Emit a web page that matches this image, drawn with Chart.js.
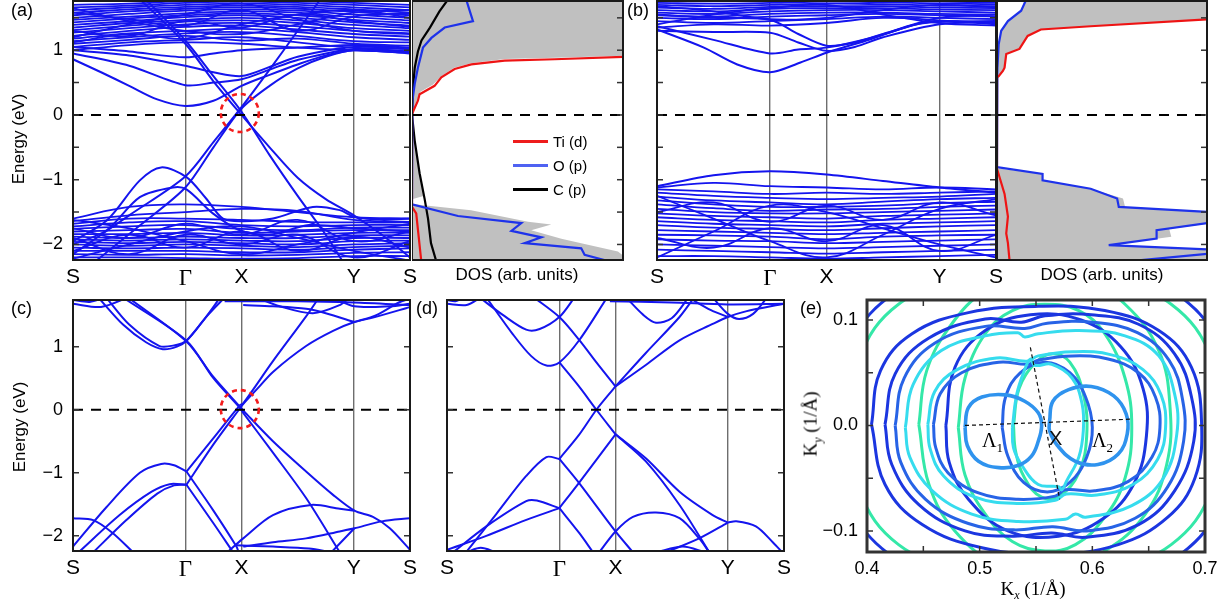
<!DOCTYPE html>
<html>
<head>
<meta charset="utf-8">
<script src="https://cdn.jsdelivr.net/npm/chart.js@4.4.1/dist/chart.umd.min.js"></script>
<style>
  body { margin: 0; background: #fff; width: 1226px; height: 609px; position: relative; overflow: hidden;
         font-family: "Liberation Sans", Arial, sans-serif; }
  canvas { position: absolute; }
  .lbl { position: absolute; white-space: nowrap; color: #000; line-height: 1; }
  .rot { transform: translate(-50%, -50%) rotate(-90deg); }
  .ctr { transform: translate(-50%, -50%); }
  .serif { font-family: "Liberation Serif", "DejaVu Serif", serif; }
  .key { position: absolute; height: 3px; width: 35px; }
</style>
</head>
<body>
<canvas id="bandA"></canvas>
<canvas id="dosA"></canvas>
<canvas id="bandB"></canvas>
<canvas id="dosB"></canvas>
<canvas id="bandC"></canvas>
<canvas id="bandD"></canvas>
<canvas id="fermiE"></canvas>

<div class="lbl" style="left:11px;top:1px;font-size:18px">(a)</div>
<div class="lbl" style="left:627px;top:1px;font-size:18px">(b)</div>
<div class="lbl" style="left:11px;top:299px;font-size:18px">(c)</div>
<div class="lbl" style="left:416px;top:299px;font-size:18px">(d)</div>
<div class="lbl" style="left:800px;top:299px;font-size:18px">(e)</div>
<div class="lbl rot" style="left:18px;top:139px;font-size:17px">Energy (eV)</div>
<div class="lbl rot" style="left:19px;top:427px;font-size:17px">Energy (eV)</div>
<div class="lbl ctr" style="left:517px;top:274px;font-size:17px">DOS (arb. units)</div>
<div class="lbl ctr" style="left:1102px;top:274px;font-size:17px">DOS (arb. units)</div>

<div class="key" style="left:513px;top:140px;background:#ee1c1c"></div>
<div class="lbl" style="left:553px;top:134px;font-size:15px">Ti (d)</div>
<div class="key" style="left:513px;top:164px;background:#4f62f2"></div>
<div class="lbl" style="left:553px;top:158px;font-size:15px">O (p)</div>
<div class="key" style="left:513px;top:188px;background:#000"></div>
<div class="lbl" style="left:553px;top:182px;font-size:15px">C (p)</div>

<div class="lbl rot serif" style="left:812px;top:424px;font-size:19px">K<sub style="font-size:12px;font-style:italic">y</sub> (1/Å)</div>
<div class="lbl ctr serif" style="left:1033px;top:590px;font-size:19px">K<sub style="font-size:12px;font-style:italic">x</sub> (1/Å)</div>
<div class="lbl serif" style="left:982px;top:430px;font-size:20px">Λ<sub style="font-size:13px">1</sub></div>
<div class="lbl serif" style="left:1092px;top:430px;font-size:20px">Λ<sub style="font-size:13px">2</sub></div>
<div class="lbl" style="left:1049px;top:428px;font-size:20px;color:#111">X</div>

<script>
// ---------- k-path ----------
const kPath = [0, 1, 2, 3, 4, 5, 6];
const kTicks = [0, 2, 3, 5, 6];
const kLabels = ['S', 'Γ', 'X', 'Y', 'S'];
const energyTicks = [-2, -1, 0, 1];
const energyMarks = [-2, -1.5, -1, -0.5, 0, 0.5, 1, 1.5];

// ---------- panel (a): band energies (eV) ----------
// rows sampled at kPath
const bandsA_condGrid = [
  [1.00, 1.08, 1.12, 1.10, 1.04, 1.00, 0.97],
  [1.05, 1.12, 1.16, 1.20, 1.12, 1.04, 1.02],
  [1.10, 1.16, 1.22, 1.15, 1.18, 1.10, 1.07],
  [1.14, 1.20, 1.26, 1.28, 1.22, 1.14, 1.12],
  [1.18, 1.26, 1.30, 1.33, 1.28, 1.20, 1.16],
  [1.22, 1.30, 1.36, 1.38, 1.32, 1.25, 1.21],
  [1.27, 1.34, 1.40, 1.42, 1.37, 1.30, 1.26],
  [1.31, 1.38, 1.44, 1.46, 1.42, 1.34, 1.30],
  [1.35, 1.42, 1.47, 1.50, 1.46, 1.39, 1.34],
  [1.39, 1.45, 1.51, 1.54, 1.50, 1.43, 1.38],
  [1.43, 1.49, 1.54, 1.57, 1.54, 1.47, 1.42],
  [1.47, 1.52, 1.57, 1.60, 1.58, 1.51, 1.46],
  [1.50, 1.56, 1.61, 1.63, 1.61, 1.55, 1.50],
  [1.54, 1.60, 1.64, 1.66, 1.64, 1.59, 1.54],
  [1.58, 1.63, 1.67, 1.69, 1.67, 1.63, 1.58],
  [1.62, 1.66, 1.70, 1.72, 1.70, 1.66, 1.62],
  [1.66, 1.69, 1.73, 1.75, 1.73, 1.70, 1.66],
  [1.70, 1.72, 1.76, 1.78, 1.76, 1.73, 1.70],
  [1.20, 1.40, 1.55, 1.72, 1.48, 1.30, 1.25],
  [1.65, 1.45, 1.30, 1.25, 1.40, 1.58, 1.62],
  [1.30, 1.22, 1.45, 1.35, 1.55, 1.45, 1.36],
  [1.58, 1.48, 1.38, 1.62, 1.30, 1.52, 1.57],
  [1.12, 1.25, 1.18, 1.40, 1.55, 1.62, 1.50]
];
const bandsA_valGrid = [
  [-1.60, -1.42, -1.38, -1.42, -1.50, -1.58, -1.60],
  [-1.64, -1.55, -1.50, -1.45, -1.48, -1.62, -1.65],
  [-1.68, -1.60, -1.60, -1.62, -1.65, -1.66, -1.66],
  [-1.72, -1.66, -1.64, -1.70, -1.72, -1.70, -1.70],
  [-1.76, -1.72, -1.70, -1.76, -1.78, -1.74, -1.74],
  [-1.80, -1.78, -1.76, -1.82, -1.80, -1.78, -1.78],
  [-1.84, -1.84, -1.82, -1.86, -1.85, -1.82, -1.82],
  [-1.88, -1.90, -1.88, -1.90, -1.90, -1.86, -1.86],
  [-1.92, -1.94, -1.92, -1.94, -1.95, -1.90, -1.90],
  [-1.96, -1.98, -1.96, -1.98, -2.00, -1.95, -1.94],
  [-2.00, -2.02, -2.00, -2.02, -2.04, -2.00, -1.98],
  [-2.05, -2.06, -2.05, -2.06, -2.08, -2.04, -2.02],
  [-2.10, -2.10, -2.10, -2.12, -2.12, -2.08, -2.06],
  [-2.15, -2.16, -2.15, -2.17, -2.16, -2.13, -2.12],
  [-2.20, -2.20, -2.21, -2.22, -2.21, -2.18, -2.18],
  [-1.62, -1.75, -1.95, -2.15, -2.00, -1.82, -1.68],
  [-2.22, -2.00, -1.80, -1.72, -1.90, -2.10, -2.25],
  [-1.75, -1.90, -1.68, -1.85, -1.62, -1.95, -1.80],
  [-2.10, -1.85, -2.05, -1.80, -2.10, -1.88, -2.05],
  [-1.90, -2.15, -1.85, -2.00, -1.85, -2.20, -1.95]
];
// [k, E] traced bands
const bandsA_traced = [
  [[0, 0.86], [0.5, 0.66], [1, 0.45], [1.5, 0.24], [2, 0.14], [2.5, 0.22], [3, 0.45], [3.5, 0.62], [4, 0.78], [4.5, 0.92], [5, 1.0], [6, 0.96]],
  [[0, 0.95], [1, 0.76], [2, 0.46], [2.5, 0.5], [3, 0.55], [3.5, 0.7], [4, 0.85], [5, 1.02], [6, 0.98]],
  [[0, 1.0], [1, 0.92], [2, 0.76], [2.5, 0.66], [3, 0.6], [3.5, 0.74], [4, 0.9], [5, 1.05], [6, 1.02]],
  [[0, 1.05], [1, 0.98], [2, 0.89], [2.5, 0.95], [3, 1.0], [4, 1.04], [5, 1.08], [6, 1.04]],
  [[1.2, 1.78], [2, 1.1], [2.5, 0.52], [3, 0.0], [3.5, -0.5], [4, -0.97], [4.5, -1.3], [5, -1.55], [5.5, -1.85], [6, -2.2]],
  [[1.3, 1.78], [2, 1.15], [2.5, 0.6], [3, 0.05], [3.5, -0.62], [4, -1.25], [4.5, -1.85], [4.8, -2.26]],
  [[0, -2.15], [1, -1.55], [2, -0.95], [2.5, -0.42], [3, 0.12], [3.5, 0.7], [4, 1.3], [4.4, 1.78]],
  [[0.4, -2.26], [1.2, -1.7], [2, -1.12], [2.5, -0.5], [3, 0.1], [3.5, 0.45], [4, 0.72], [4.5, 0.9], [5, 1.0], [6, 0.95]],
  [[0, -1.95], [0.6, -1.63], [1.19, -1.01], [1.57, -0.81], [2.02, -0.96], [2.37, -1.29], [2.67, -1.6], [3.03, -1.64], [3.56, -1.6], [4.27, -1.42], [4.75, -1.47], [5, -1.57], [5.5, -1.62], [6, -1.6]],
  [[0, -2.0], [0.6, -1.78], [1.19, -1.27], [1.78, -1.12], [2.02, -1.15], [2.49, -1.52], [2.97, -1.78], [3.5, -1.85], [4.2, -1.7], [5, -1.75], [6, -1.8]]
];

// ---------- panel (a): DOS, [DOS, E] ----------
const dosA_Ti = [[1.02, 0.9], [0.676, 0.86], [0.439, 0.84], [0.281, 0.78], [0.202, 0.71], [0.139, 0.58], [0.107, 0.45], [0.036, 0.32], [0.028, 0.22], [0, 0.015], [0, -1.42], [0.02, -1.52], [0.03, -1.83], [0.044, -2.26]];
const dosA_O = [[0.257, 1.78], [0.289, 1.45], [0.155, 1.35], [0.092, 1.19], [0.052, 1.04], [0.028, 0.73], [0.013, 0.48], [0.002, 0.22], [0, 0], [0, -1.38], [0.218, -1.56], [0.518, -1.67], [0.471, -1.79], [0.613, -1.89], [0.534, -1.98], [0.802, -2.06], [0.818, -2.16], [0.945, -2.27]];
const dosA_C = [[0.17, 1.78], [0.13, 1.6], [0.085, 1.35], [0.045, 1.15], [0.028, 0.98], [0.013, 0.73], [0.005, 0.43], [0, 0], [0.013, -0.4], [0.036, -0.9], [0.06, -1.3], [0.076, -1.6], [0.09, -1.98], [0.115, -2.26]];
const dosA_totalUp = [[-0.05, 1.85], [1.05, 1.85], [1.05, 0.92], [0.68, 0.885], [0.44, 0.865], [0.28, 0.8], [0.2, 0.73], [0.14, 0.6], [0.1, 0.47], [0.04, 0.36], [0.02, 0.2], [0, 0.02], [-0.05, 0.02]];
const dosA_totalMid = [[-0.05, 0], [0, 0], [0.013, -0.4], [0.036, -0.9], [0.055, -1.25], [0, -1.3], [-0.05, -1.3]];
const dosA_totalLow = [[-0.05, -1.36], [0.28, -1.47], [0.55, -1.65], [0.66, -1.69], [0.565, -1.78], [0.708, -1.91], [0.802, -1.98], [0.976, -2.11], [1.05, -2.3], [-0.05, -2.3]];

// ---------- panel (b) ----------
const bandsB_condGrid = [
  [1.45, 1.42, 1.45, 1.48, 1.52, 1.50, 1.48],
  [1.50, 1.48, 1.52, 1.54, 1.56, 1.54, 1.52],
  [1.54, 1.52, 1.56, 1.58, 1.58, 1.56, 1.55],
  [1.58, 1.56, 1.60, 1.62, 1.62, 1.60, 1.58],
  [1.62, 1.60, 1.64, 1.65, 1.65, 1.63, 1.62],
  [1.66, 1.64, 1.67, 1.68, 1.68, 1.66, 1.65],
  [1.70, 1.68, 1.70, 1.72, 1.71, 1.69, 1.68],
  [1.73, 1.72, 1.73, 1.75, 1.74, 1.72, 1.71],
  [1.76, 1.76, 1.77, 1.78, 1.77, 1.75, 1.74],
  [1.35, 1.40, 1.38, 1.42, 1.50, 1.46, 1.40],
  [1.68, 1.60, 1.48, 1.50, 1.62, 1.70, 1.66],
  [1.40, 1.55, 1.65, 1.70, 1.55, 1.42, 1.38]
];
const bandsB_valGrid = [
  [-1.12, -1.05, -1.10, -1.12, -1.15, -1.12, -1.15],
  [-1.15, -1.18, -1.22, -1.20, -1.22, -1.20, -1.18],
  [-1.20, -1.25, -1.28, -1.30, -1.28, -1.26, -1.22],
  [-1.26, -1.32, -1.35, -1.38, -1.34, -1.30, -1.28],
  [-1.32, -1.38, -1.42, -1.42, -1.40, -1.36, -1.34],
  [-1.38, -1.44, -1.48, -1.46, -1.45, -1.42, -1.40],
  [-1.45, -1.50, -1.52, -1.52, -1.50, -1.48, -1.46],
  [-1.52, -1.56, -1.58, -1.60, -1.56, -1.54, -1.52],
  [-1.58, -1.62, -1.64, -1.66, -1.62, -1.60, -1.58],
  [-1.64, -1.68, -1.70, -1.72, -1.68, -1.66, -1.64],
  [-1.70, -1.74, -1.76, -1.78, -1.75, -1.72, -1.70],
  [-1.78, -1.80, -1.82, -1.84, -1.82, -1.80, -1.78],
  [-1.85, -1.86, -1.88, -1.92, -1.88, -1.86, -1.85],
  [-1.92, -1.94, -1.95, -1.98, -1.96, -1.94, -1.92],
  [-2.00, -2.02, -2.04, -2.06, -2.04, -2.02, -2.00],
  [-2.08, -2.10, -2.12, -2.14, -2.12, -2.10, -2.08],
  [-2.18, -2.18, -2.20, -2.22, -2.20, -2.18, -2.16],
  [-1.25, -1.60, -1.95, -2.20, -1.85, -1.45, -1.30],
  [-2.20, -1.80, -1.40, -1.50, -1.75, -2.00, -2.20],
  [-1.50, -1.35, -1.65, -1.40, -1.62, -1.35, -1.55],
  [-1.90, -2.05, -1.75, -1.95, -1.70, -2.10, -1.85]
];
const bandsB_traced = [
  [[0, 1.32], [0.83, 1.04], [1.42, 0.78], [2.0, 0.66], [2.54, 0.81], [3.0, 0.96], [3.78, 1.17], [4.54, 1.39], [5.0, 1.44], [6.0, 1.45]],
  [[0, 1.37], [1.0, 1.16], [2.0, 0.95], [2.5, 1.01], [3.0, 1.04], [3.78, 1.19], [4.6, 1.4], [5.0, 1.45], [6, 1.42]],
  [[0, 1.3], [1, 1.28], [2, 1.27], [2.5, 1.12], [3, 0.99], [3.5, 1.05], [4, 1.2], [5, 1.4], [6, 1.44]],
  [[0, 1.55], [1, 1.5], [2, 1.47], [2.5, 1.25], [3, 1.07], [3.5, 1.12], [4, 1.25], [5, 1.5], [6, 1.55]],
  [[0, -1.1], [1, -0.93], [2, -0.87], [3, -0.92], [4, -1.02], [5, -1.12], [6, -1.2]]
];
const dosB_Ti = [[1.02, 1.48], [0.446, 1.37], [0.209, 1.32], [0.146, 1.22], [0.107, 1.02], [0.044, 0.94], [0.036, 0.73], [0.028, 0.68], [0.008, 0.6], [0, 0.58], [0, -0.83], [0.036, -1.22], [0.052, -1.57], [0.044, -1.83], [0.052, -1.98], [0.06, -2.26]];
const dosB_O = [[0.139, 1.78], [0.115, 1.61], [0.052, 1.45], [0.02, 1.3], [0.008, 1.09], [0.002, 0.73], [0, 0.5], [0, -0.805], [0.217, -0.91], [0.217, -1.01], [0.446, -1.14], [0.572, -1.29], [0.58, -1.42], [1.02, -1.5]];
const dosB_O2 = [[1.02, -1.66], [0.76, -1.78], [0.76, -1.91], [0.532, -2.01], [1.02, -2.08]];
const dosB_O3 = [[1.02, -2.14], [0.627, -2.26]];
const dosB_totalUp = [[0.139, 1.85], [1.05, 1.85], [1.05, 1.48], [0.446, 1.37], [0.209, 1.32], [0.146, 1.22], [0.107, 1.02], [0.044, 0.94], [0.036, 0.73], [0.028, 0.68], [0.008, 0.6], [0.004, 0.8], [0.008, 1.09], [0.02, 1.3], [0.052, 1.45], [0.115, 1.61]];
const dosB_totalLow = [[-0.05, -0.805], [0.217, -0.91], [0.217, -1.01], [0.446, -1.14], [0.6, -1.29], [0.61, -1.42], [1.05, -1.5], [1.05, -1.66], [0.82, -1.76], [0.83, -1.88], [0.56, -2.0], [1.05, -2.1], [1.05, -2.3], [-0.05, -2.3]];

// ---------- panel (c) ----------
const bandsC = [
  [[0, 1.68], [0.5, 1.63], [0.98, 1.78]],
  [[0, 1.74], [0.3, 1.71], [0.55, 1.78]],
  [[0.45, 1.78], [0.89, 1.35], [1.3, 1.07], [1.6, 0.96], [1.85, 1.0], [2.02, 1.095], [2.4, 1.5], [2.7, 1.78]],
  [[0.59, 1.78], [1.0, 1.35], [1.54, 1.01], [1.8, 1.02], [2.02, 1.095], [2.35, 1.45], [2.62, 1.78]],
  [[0.89, 1.78], [2.02, 1.095], [2.5, 0.5], [2.97, 0.03], [3.03, -0.05], [3.56, -0.68], [4.15, -1.4], [4.75, -2.26]],
  [[0.98, 1.78], [2.02, 1.08], [2.5, 0.52], [2.97, 0.05], [3.05, -0.03], [3.56, -0.5], [4.15, -0.98], [4.63, -1.35], [5.01, -1.6], [5.34, -1.7], [5.64, -1.88], [6, -2.22]],
  [[2.02, -0.98], [2.5, -0.45], [2.97, 0.07], [3.03, 0.1], [3.56, 0.77], [4.15, 1.48], [4.38, 1.78]],
  [[2.02, -1.19], [2.5, -0.55], [2.97, 0.02], [3.03, 0.09], [3.3, 0.35], [3.56, 0.6], [4.15, 1.01], [4.63, 1.25], [5.01, 1.39], [5.34, 1.46], [5.93, 1.61], [6, 1.63]],
  [[2.02, -0.98], [2.5, -1.6], [2.91, -2.17], [2.95, -2.26]],
  [[2.02, -1.19], [2.5, -1.8], [2.85, -2.26]],
  [[0, -2.17], [0.59, -1.55], [1.19, -1.0], [1.57, -0.86], [1.8, -0.88], [2.02, -0.98]],
  [[0.1, -2.26], [0.83, -1.67], [1.4, -1.3], [1.72, -1.18], [2.02, -1.19]],
  [[0.36, -2.26], [0.95, -1.75], [1.5, -1.33], [1.8, -1.2], [2.02, -1.19]],
  [[0, -1.72], [0.36, -1.75], [0.7, -1.95], [1.07, -2.26]],
  [[2.75, -2.26], [3.03, -2.04], [3.56, -1.67], [4.24, -1.51], [4.75, -1.57], [5.01, -1.6]],
  [[3.03, -2.17], [3.56, -2.1], [4.15, -2.04], [4.75, -1.93], [5.01, -1.88], [5.5, -1.77], [6, -1.72]],
  [[4.6, -2.26], [5.01, -1.88]],
  [[2.9, -2.15], [3.56, -2.17], [4.2, -2.2], [4.6, -2.26]],
  [[3.03, 1.66], [3.56, 1.64], [4.15, 1.6], [4.5, 1.53], [5.01, 1.39]],
  [[3.26, 1.78], [3.68, 1.64], [4.27, 1.53], [4.75, 1.66], [4.93, 1.78]],
  [[4.63, 1.78], [5.01, 1.64], [5.64, 1.64], [6, 1.68]],
  [[2.7, 1.72], [4, 1.72], [5, 1.7], [6, 1.66]],
  [[5.01, 1.39], [5.4, 1.5], [5.8, 1.7], [6, 1.76]]
];

// ---------- panel (d) ----------
const bandsD = [
  [[0, 1.68], [0.35, 1.66], [0.6, 1.78]],
  [[0, 1.74], [0.15, 1.72], [0.3, 1.78]],
  [[0.58, 1.78], [1.0, 1.5], [1.41, 1.27], [1.65, 1.28], [2.0, 1.47], [2.27, 1.78]],
  [[0.7, 1.78], [1.17, 1.2], [1.5, 0.85], [1.77, 0.7], [2.0, 0.75], [2.36, 1.11], [2.85, 1.78]],
  [[1.55, 1.78], [2.0, 1.47], [2.36, 1.1], [2.66, 0.75], [3.0, 0.37]],
  [[2.0, 0.75], [2.35, 0.37], [2.66, 0.0], [3.0, -0.39]],
  [[2.0, -0.78], [2.35, -0.4], [2.66, 0.0], [3.0, 0.37]],
  [[2.0, -0.78], [2.35, -1.16], [3.0, -1.93], [3.31, -2.26]],
  [[2.0, -1.56], [2.35, -1.16], [3.0, -0.39]],
  [[2.0, -1.56], [2.35, -1.95], [2.6, -2.26]],
  [[2.71, -2.26], [3.0, -1.93], [3.31, -1.7], [3.72, -1.63], [4.14, -1.72], [4.49, -2.04], [4.67, -2.26]],
  [[3.0, 0.37], [3.54, 0.9], [4.14, 1.47], [4.4, 1.78]],
  [[3.0, 0.37], [3.54, 0.71], [4.14, 1.1], [4.73, 1.36], [5.0, 1.47], [5.32, 1.56], [6, 1.68]],
  [[3.0, -0.39], [3.54, -0.82], [4.14, -1.51], [4.67, -2.26]],
  [[3.0, -0.39], [3.54, -0.77], [4.14, -1.3], [4.73, -1.67], [5.0, -1.79]],
  [[5.0, -1.79], [5.15, -1.77], [5.5, -1.85], [5.8, -2.1], [5.97, -2.26]],
  [[5.0, -1.79], [4.49, -2.04], [3.9, -2.26]],
  [[3.72, -2.26], [4.2, -2.17], [4.6, -2.26]],
  [[0.34, -2.26], [0.88, -1.65], [1.41, -1.05], [1.77, -0.75], [2.0, -0.78]],
  [[0.11, -2.26], [0.7, -1.85], [1.41, -1.45], [1.6, -1.44], [2.0, -1.56]],
  [[0, -2.22], [0.7, -2.0], [1.4, -1.75], [2.0, -1.56]],
  [[0.34, -2.26], [0.6, -2.19], [0.88, -2.26]],
  [[2.9, 1.72], [4.0, 1.7], [5.0, 1.67], [6, 1.68]],
  [[3.19, 1.78], [3.5, 1.5], [3.72, 1.38], [4.0, 1.45], [4.3, 1.78]],
  [[4.73, 1.78], [5.0, 1.52], [5.2, 1.44], [5.45, 1.52], [5.7, 1.78]],
  [[4.3, 1.78], [4.7, 1.58], [5.0, 1.47]]
];

// ---------- panel (e): Fermi-surface contours [Kx, Ky] (1/Å) ----------
const fsSky = [
  [[0.487, -0.002], [0.49, 0.017], [0.502, 0.027], [0.523, 0.029], [0.54, 0.023], [0.552, 0.012], [0.555, 0.0], [0.552, -0.015], [0.546, -0.029], [0.534, -0.038], [0.517, -0.04], [0.499, -0.034], [0.489, -0.019], [0.487, -0.002]],
  [[0.562, 0.004], [0.565, 0.023], [0.579, 0.034], [0.599, 0.037], [0.619, 0.028], [0.63, 0.011], [0.631, -0.008], [0.623, -0.027], [0.605, -0.037], [0.585, -0.034], [0.569, -0.019], [0.562, -0.005], [0.562, 0.004]]
];
const fsBlue = [
  [[0.52, -0.002], [0.523, 0.027], [0.536, 0.05], [0.558, 0.06], [0.58, 0.05], [0.594, 0.027], [0.6, -0.002], [0.595, -0.03], [0.58, -0.054], [0.56, -0.063], [0.539, -0.054], [0.525, -0.029], [0.52, -0.002]],
  [[0.459, 0.001], [0.465, 0.03], [0.484, 0.05], [0.517, 0.06], [0.543, 0.058], [0.552, 0.062], [0.582, 0.066], [0.614, 0.063], [0.641, 0.05], [0.656, 0.027], [0.66, -0.002], [0.653, -0.03], [0.632, -0.053], [0.602, -0.062], [0.576, -0.061], [0.567, -0.067], [0.534, -0.07], [0.499, -0.064], [0.472, -0.045], [0.461, -0.021], [0.459, 0.001]],
  [[0.425, 0.0], [0.433, 0.045], [0.46, 0.078], [0.505, 0.094], [0.54, 0.092], [0.56, 0.097], [0.6, 0.098], [0.64, 0.088], [0.668, 0.062], [0.68, 0.025], [0.681, -0.015], [0.667, -0.058], [0.638, -0.088], [0.595, -0.1], [0.565, -0.096], [0.53, -0.099], [0.49, -0.093], [0.452, -0.07], [0.43, -0.035], [0.425, 0.0]]
];
const fsCyan = [
  [[0.529, -0.002], [0.533, 0.03], [0.54, 0.053], [0.545, 0.063], [0.549, 0.057], [0.564, 0.058], [0.582, 0.045], [0.591, 0.02], [0.592, -0.005], [0.588, -0.03], [0.577, -0.053], [0.573, -0.061], [0.57, -0.058], [0.552, -0.056], [0.537, -0.037], [0.53, -0.021], [0.529, -0.002]],
  [[0.434, -0.002], [0.441, 0.039], [0.466, 0.071], [0.505, 0.085], [0.534, 0.088], [0.54, 0.084], [0.552, 0.087], [0.588, 0.09], [0.629, 0.085], [0.659, 0.066], [0.673, 0.03], [0.675, -0.008], [0.663, -0.05], [0.635, -0.076], [0.594, -0.087], [0.585, -0.084], [0.576, -0.089], [0.534, -0.091], [0.493, -0.084], [0.458, -0.062], [0.438, -0.03], [0.434, -0.002]],
  [[0.454, 0.001], [0.46, 0.032], [0.48, 0.053], [0.515, 0.064], [0.542, 0.061], [0.552, 0.066], [0.583, 0.07], [0.617, 0.067], [0.645, 0.053], [0.661, 0.029], [0.665, -0.002], [0.658, -0.032], [0.636, -0.056], [0.604, -0.066], [0.577, -0.065], [0.567, -0.071], [0.533, -0.074], [0.496, -0.068], [0.468, -0.048], [0.456, -0.022], [0.454, 0.001]]
];
const fsDark = [
  [[0.416, 0.001], [0.425, 0.049], [0.455, 0.083], [0.505, 0.101], [0.537, 0.098], [0.558, 0.104], [0.599, 0.105], [0.641, 0.096], [0.673, 0.068], [0.688, 0.027], [0.69, -0.015], [0.673, -0.062], [0.641, -0.094], [0.594, -0.106], [0.564, -0.102], [0.529, -0.105], [0.487, -0.1], [0.446, -0.075], [0.422, -0.037], [0.416, 0.001]],
  [[0.404, 0.001], [0.412, 0.052], [0.44, 0.087], [0.49, 0.107], [0.552, 0.113], [0.611, 0.109], [0.659, 0.09], [0.688, 0.055], [0.697, 0.001], [0.691, -0.05], [0.667, -0.087], [0.623, -0.113], [0.564, -0.122], [0.502, -0.116], [0.449, -0.094], [0.416, -0.056], [0.404, 0.001]],
  [[0.372, 0.0], [0.382, 0.07], [0.422, 0.124], [0.487, 0.152], [0.549, 0.158], [0.611, 0.152], [0.676, 0.124], [0.716, 0.07], [0.726, 0.0], [0.716, -0.07], [0.676, -0.124], [0.611, -0.152], [0.549, -0.158], [0.487, -0.152], [0.422, -0.124], [0.382, -0.07], [0.372, 0.0]],
  [[0.47, 0.0], [0.478, 0.055], [0.505, 0.09], [0.545, 0.105], [0.59, 0.1], [0.625, 0.075], [0.645, 0.035], [0.648, -0.01], [0.637, -0.055], [0.61, -0.088], [0.57, -0.105], [0.525, -0.1], [0.49, -0.07], [0.473, -0.035], [0.47, 0.0]]
];
const fsGreen = [
  [[0.446, 0.001], [0.453, 0.052], [0.475, 0.096], [0.505, 0.128], [0.546, 0.147], [0.591, 0.14], [0.629, 0.115], [0.659, 0.071], [0.669, 0.017], [0.666, -0.037], [0.647, -0.084], [0.611, -0.119], [0.564, -0.138], [0.517, -0.132], [0.478, -0.1], [0.455, -0.056], [0.446, 0.001]],
  [[0.481, -0.002], [0.487, 0.045], [0.505, 0.087], [0.529, 0.109], [0.558, 0.115], [0.588, 0.109], [0.611, 0.087], [0.629, 0.045], [0.635, -0.002], [0.629, -0.05], [0.611, -0.087], [0.585, -0.113], [0.558, -0.119], [0.529, -0.11], [0.505, -0.084], [0.487, -0.047], [0.481, -0.002]],
  [[0.384, 0.001], [0.393, 0.064], [0.428, 0.115], [0.487, 0.14], [0.549, 0.147], [0.611, 0.14], [0.67, 0.115], [0.706, 0.064], [0.715, 0.001], [0.706, -0.062], [0.67, -0.113], [0.611, -0.138], [0.549, -0.144], [0.487, -0.138], [0.428, -0.113], [0.393, -0.062], [0.384, 0.001]],
  [[0.53, 0.0], [0.535, 0.035], [0.55, 0.06], [0.565, 0.068], [0.58, 0.06], [0.592, 0.03], [0.595, -0.01], [0.588, -0.045], [0.572, -0.066], [0.555, -0.068], [0.54, -0.05], [0.532, -0.025], [0.53, 0.0]]
];
const fsCuts = [
  [[0.487, 0.0], [0.635, 0.006]],
  [[0.545, 0.074], [0.571, -0.07]]
];

// ---------- drawing helpers ----------
const BAND = '#1414ee';
const toXY = list => list.map(([x, y]) => ({ x, y }));
const gridXY = row => kPath.map((k, i) => ({ x: k, y: row[i] }));

function curve(data, color, width, extra) {
  return Object.assign({ data, borderColor: color, backgroundColor: color, borderWidth: width,
    pointRadius: 0, showLine: true, tension: 0, fill: false }, extra || {});
}

const decoPlugin = {
  id: 'deco',
  // shaded total-DOS areas, mapped through the chart's own scales
  beforeDatasetsDraw(chart, args, o) {
    if (!o.areas) return;
    const { ctx, chartArea: a, scales: { x, y } } = chart;
    ctx.save();
    ctx.beginPath();
    ctx.rect(a.left, a.top, a.width, a.height);
    ctx.clip();
    ctx.fillStyle = o.areaColor || '#c0c0c0';
    o.areas.forEach(poly => {
      ctx.beginPath();
      poly.forEach(([vx, vy], i) => {
        const px = x.getPixelForValue(vx), py = y.getPixelForValue(vy);
        if (i) ctx.lineTo(px, py); else ctx.moveTo(px, py);
      });
      ctx.closePath();
      ctx.fill();
    });
    ctx.restore();
  },
  afterDatasetsDraw(chart, args, o) {
    const { ctx, chartArea: a, scales: { x, y } } = chart;
    ctx.save();
    ctx.strokeStyle = o.markColor || '#333';
    ctx.lineWidth = 1.5;
    (o.yMarks || []).forEach(v => {
      const py = y.getPixelForValue(v);
      ctx.beginPath();
      if (o.left !== false) { ctx.moveTo(a.left, py); ctx.lineTo(a.left + 6, py); }
      ctx.moveTo(a.right, py); ctx.lineTo(a.right - 6, py);
      ctx.stroke();
    });
    (o.xMarks || []).forEach(v => {
      const px = x.getPixelForValue(v);
      ctx.beginPath();
      ctx.moveTo(px, a.top); ctx.lineTo(px, a.top + 6);
      ctx.moveTo(px, a.bottom); ctx.lineTo(px, a.bottom - 6);
      ctx.stroke();
    });
    if (o.ring) {
      ctx.strokeStyle = '#f41c1c';
      ctx.lineWidth = 2.6;
      ctx.setLineDash([5, 4]);
      ctx.beginPath();
      ctx.arc(x.getPixelForValue(o.ring.x), y.getPixelForValue(o.ring.y), o.ring.r, 0, Math.PI * 2);
      ctx.stroke();
      ctx.setLineDash([]);
    }
    ctx.strokeStyle = o.frameColor || '#1a1a1a';
    ctx.lineWidth = o.frameWidth || 2;
    ctx.strokeRect(a.left, a.top, a.width, a.height);
    ctx.restore();
  }
};

// the y axis takes exactly pad.l, the x axis exactly pad.b; label overflow padding is switched off
function fitX(h) { return s => { s.height = h; s.paddingLeft = 0; s.paddingRight = 0; }; }
function fitY(w) { return s => { s.width = w; s.paddingTop = 0; s.paddingBottom = 0; }; }

function mount(id, box, pad, datasets, scales, deco) {
  const cv = document.getElementById(id);
  cv.width = box.w + pad.l + pad.r;
  cv.height = box.h + pad.t + pad.b;
  cv.style.left = (box.x - pad.l) + 'px';
  cv.style.top = (box.y - pad.t) + 'px';
  scales.x.afterFit = fitX(pad.b);
  scales.y.afterFit = fitY(pad.l);
  return new Chart(cv, {
    type: 'scatter',
    data: { datasets },
    plugins: [decoPlugin],
    options: {
      responsive: false, animation: false, events: [],
      layout: { autoPadding: false, padding: { left: 0, top: pad.t, right: pad.r, bottom: 0 } },
      plugins: { legend: { display: false }, tooltip: { enabled: false }, deco },
      scales
    }
  });
}

const sansTick = { family: '"Liberation Sans", Arial, sans-serif', size: 21 };
const serifTick = { family: '"Liberation Serif", "DejaVu Serif", serif', size: 23 };
const minus = v => (v < 0 ? '\u2212' + Math.abs(v) : String(v));

function bandScales(yMin, yMax, showY) {
  return {
    x: {
      type: 'linear', min: 0, max: 6,
      afterBuildTicks: s => { s.ticks = kTicks.map(v => ({ value: v })); },
      grid: { color: '#6e6e6e', lineWidth: 1.4, drawTicks: false },
      border: { display: false },
      ticks: { autoSkip: false, maxRotation: 0, padding: 5, color: '#000',
        callback: (v, i) => kLabels[i],
        font: c => (c.tick && c.tick.value === 2 ? serifTick : sansTick) }
    },
    y: {
      type: 'linear', min: yMin, max: yMax,
      afterBuildTicks: s => { s.ticks = energyTicks.map(v => ({ value: v })); },
      grid: { display: false, drawTicks: false },
      border: { display: false },
      ticks: { display: showY, padding: 10, color: '#000', callback: minus,
        font: { family: '"Liberation Sans", Arial, sans-serif', size: 18 } }
    }
  };
}

function dosScales(yMin, yMax) {
  const hidden = { display: false, drawTicks: false };
  return {
    x: { type: 'linear', min: 0, max: 1, grid: hidden, border: { display: false }, ticks: { display: false } },
    y: { type: 'linear', min: yMin, max: yMax, grid: hidden, border: { display: false }, ticks: { display: false } }
  };
}

function fermi(xMax) {
  return curve([{ x: 0, y: 0 }, { x: xMax, y: 0 }], '#000', 2, { borderDash: [10, 8] });
}

function bandSets(grids, traced) {
  const out = [fermi(6)];
  grids.forEach(g => g.forEach(row => out.push(curve(gridXY(row), BAND, 1.8, { tension: 0.4 }))));
  traced.forEach(b => out.push(curve(toXY(b), BAND, 2, { tension: 0.3 })));
  return out;
}

const RED = '#ee1414', OBLUE = '#1e32ea';

// ---------- panel (a) ----------
mount('bandA', { x: 73, y: 1, w: 337, h: 259 }, { l: 73, t: 1, r: 12, b: 36 },
  bandSets([bandsA_condGrid, bandsA_valGrid], bandsA_traced),
  bandScales(-2.24, 1.76, true),
  { yMarks: energyMarks, ring: { x: 2.97, y: 0.03, r: 19 } });

mount('dosA', { x: 412, y: 1, w: 211, h: 259 }, { l: 0, t: 1, r: 2, b: 2 },
  [fermi(1),
   curve(toXY(dosA_Ti), RED, 2.2),
   curve(toXY(dosA_O), OBLUE, 2.2),
   curve(toXY(dosA_C), '#000', 2.2)],
  dosScales(-2.24, 1.76),
  { yMarks: energyMarks, left: false, areas: [dosA_totalUp, dosA_totalMid, dosA_totalLow] });

// ---------- panel (b) ----------
mount('bandB', { x: 657, y: 1, w: 339, h: 259 }, { l: 14, t: 1, r: 12, b: 36 },
  bandSets([bandsB_condGrid, bandsB_valGrid], bandsB_traced),
  bandScales(-2.24, 1.76, false),
  { yMarks: energyMarks });

mount('dosB', { x: 997, y: 1, w: 210, h: 259 }, { l: 0, t: 1, r: 2, b: 2 },
  [fermi(1),
   curve(toXY(dosB_Ti), RED, 2.2),
   curve(toXY(dosB_O), OBLUE, 2.2),
   curve(toXY(dosB_O2), OBLUE, 2.2),
   curve(toXY(dosB_O3), OBLUE, 2.2)],
  dosScales(-2.24, 1.76),
  { yMarks: energyMarks, left: false, areas: [dosB_totalUp, dosB_totalLow] });

// ---------- panels (c), (d) ----------
mount('bandC', { x: 73, y: 300, w: 337, h: 251 }, { l: 73, t: 2, r: 12, b: 36 },
  bandSets([], bandsC),
  bandScales(-2.24, 1.74, true),
  { yMarks: [-2, -1, 0, 1], ring: { x: 2.97, y: 0.01, r: 19 } });

mount('bandD', { x: 447, y: 300, w: 337, h: 251 }, { l: 14, t: 2, r: 12, b: 36 },
  bandSets([], bandsD),
  bandScales(-2.24, 1.74, false),
  { yMarks: [-2, -1, 0, 1] });

// ---------- panel (e) ----------
const fsSets = [];
fsCuts.forEach(c => fsSets.push(curve(toXY(c), '#111', 1.2, { borderDash: [4, 3] })));
const loopStyle = [[fsSky, '#2f93ee', 3.6], [fsCyan, '#36dcee', 3], [fsBlue, '#2763e6', 3], [fsDark, '#1b36e0', 3], [fsGreen, '#34e8a8', 3]];
loopStyle.forEach(([loops, color, w]) => loops.forEach(l => fsSets.push(curve(toXY(l), color, w, { tension: 0.4 }))));

mount('fermiE', { x: 867, y: 300, w: 338, h: 252 }, { l: 67, t: 4, r: 15, b: 30 },
  fsSets,
  {
    x: { type: 'linear', min: 0.4, max: 0.7,
      afterBuildTicks: s => { s.ticks = [0.4, 0.5, 0.6, 0.7].map(v => ({ value: v })); },
      grid: { display: false, drawTicks: false }, border: { display: false },
      ticks: { padding: 6, color: '#000', maxRotation: 0, autoSkip: false,
        callback: v => v.toFixed(1), font: { family: '"Liberation Sans", Arial, sans-serif', size: 18 } } },
    y: { type: 'linear', min: -0.12, max: 0.119,
      afterBuildTicks: s => { s.ticks = [-0.1, 0, 0.1].map(v => ({ value: v })); },
      grid: { display: false, drawTicks: false }, border: { display: false },
      ticks: { padding: 9, color: '#000',
        callback: v => (v < 0 ? '\u2212' : '') + Math.abs(v).toFixed(1),
        font: { family: '"Liberation Sans", Arial, sans-serif', size: 18 } } }
  },
  { yMarks: [-0.1, -0.05, 0, 0.05, 0.1], xMarks: [0.45, 0.5, 0.55, 0.6, 0.65], frameColor: '#333', frameWidth: 3 });
</script>
</body>
</html>
